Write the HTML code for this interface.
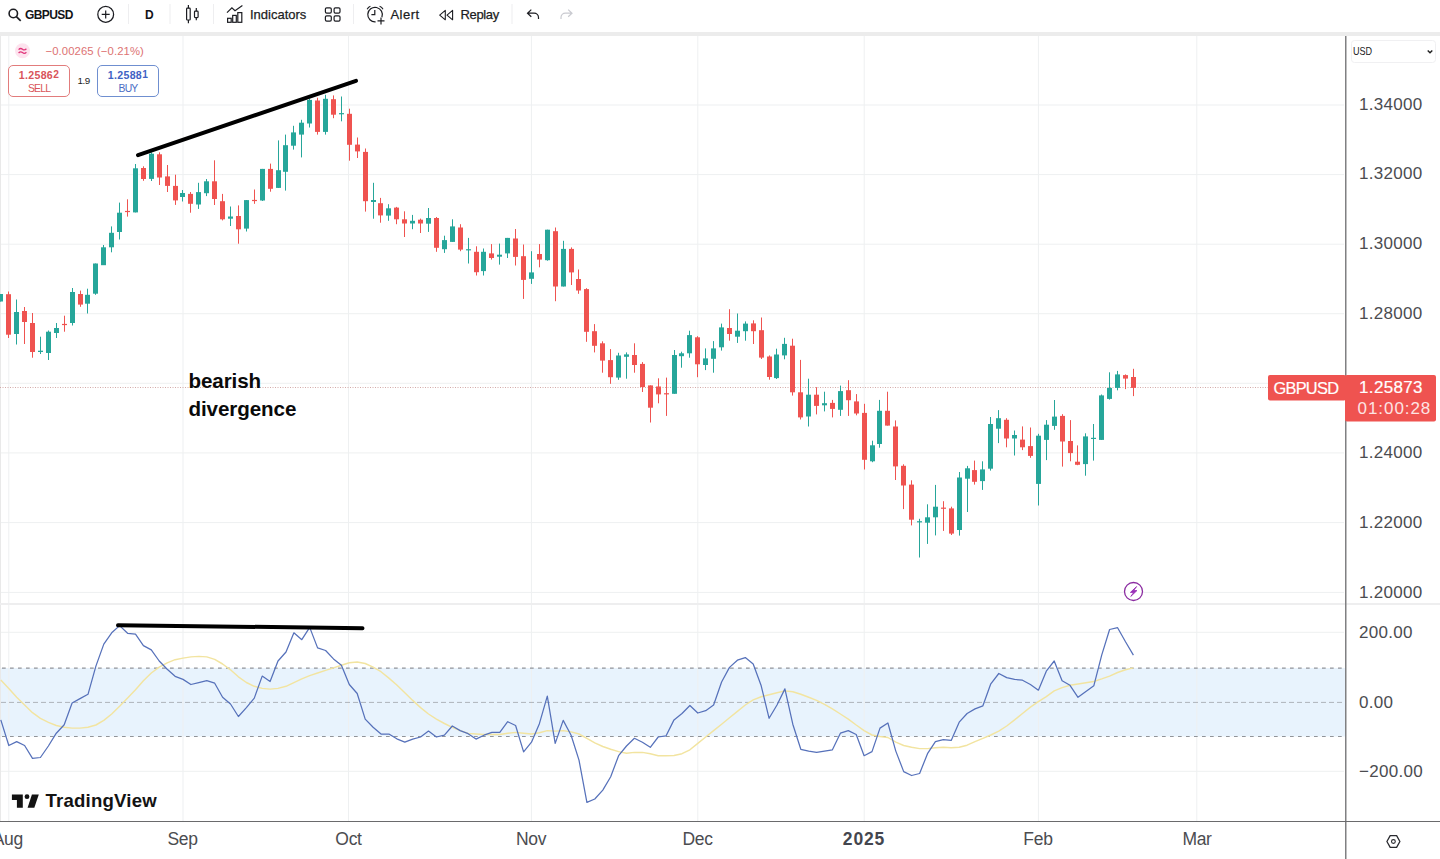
<!DOCTYPE html>
<html><head><meta charset="utf-8"><title>GBPUSD chart</title>
<style>
html,body{margin:0;padding:0;background:#fff;}
body{width:1440px;height:859px;position:relative;overflow:hidden;font-family:"Liberation Sans", sans-serif;}
.abs{position:absolute;}
.t{position:absolute;white-space:nowrap;line-height:1;}
.ax{position:absolute;left:1359px;font-size:17px;color:#4b4c50;letter-spacing:0.3px;line-height:20px;height:20px;white-space:nowrap;}
.tm{position:absolute;top:829.3px;font-size:17.5px;color:#4b4c50;line-height:20px;height:20px;white-space:nowrap;transform:translateX(-50%);letter-spacing:-0.3px;}
.tb{position:absolute;font-size:13px;color:#1c1d22;-webkit-text-stroke:0.25px #1c1d22;line-height:16px;top:7px;white-space:nowrap;}
</style></head><body>

<svg class="abs" style="left:0;top:0" width="1440" height="859" viewBox="0 0 1440 859">
<rect x="0" y="32" width="1440" height="4" fill="#ececec"/>
<rect x="0" y="36" width="1" height="785" fill="#e9e9e9"/>
<rect x="1" y="668" width="1344" height="68.5" fill="#e8f3fd"/>
<rect x="8.3" y="36" width="1" height="785" fill="#eef0f1"/>
<rect x="182.5" y="36" width="1" height="785" fill="#eef0f1"/>
<rect x="348.0" y="36" width="1" height="785" fill="#eef0f1"/>
<rect x="530.9" y="36" width="1" height="785" fill="#eef0f1"/>
<rect x="697.3" y="36" width="1" height="785" fill="#eef0f1"/>
<rect x="863.7" y="36" width="1" height="785" fill="#eef0f1"/>
<rect x="1037.9" y="36" width="1" height="785" fill="#eef0f1"/>
<rect x="1196.3" y="36" width="1" height="785" fill="#eef0f1"/>
<rect x="1" y="104.5" width="1343" height="1" fill="#eef0f1"/>
<rect x="1" y="174.1" width="1343" height="1" fill="#eef0f1"/>
<rect x="1" y="243.7" width="1343" height="1" fill="#eef0f1"/>
<rect x="1" y="313.2" width="1343" height="1" fill="#eef0f1"/>
<rect x="1" y="382.8" width="1343" height="1" fill="#eef0f1"/>
<rect x="1" y="452.4" width="1343" height="1" fill="#eef0f1"/>
<rect x="1" y="522.1" width="1343" height="1" fill="#eef0f1"/>
<rect x="1" y="591.9" width="1343" height="1" fill="#eef0f1"/>
<rect x="1" y="631.8" width="1343" height="1" fill="#eef0f1"/>
<rect x="1" y="770.8" width="1343" height="1" fill="#eef0f1"/>
<rect x="0" y="603" width="1440" height="2" fill="#eeeeef"/>
<line x1="1" y1="668.1" x2="1345" y2="668.1" stroke="#919499" stroke-width="1.15" stroke-dasharray="3.7 4.3" stroke-dashoffset="-1"/>
<line x1="1" y1="736.5" x2="1345" y2="736.5" stroke="#919499" stroke-width="1.15" stroke-dasharray="3.7 4.3" stroke-dashoffset="-1"/>
<line x1="1" y1="702.4" x2="1345" y2="702.4" stroke="#aeb3ba" stroke-width="1" stroke-dasharray="5 3"/>
<line x1="0" y1="387.5" x2="1268" y2="387.5" stroke="#d3aaa8" stroke-width="1" stroke-dasharray="1 1.5"/>
<rect x="0.00" y="294.0" width="1" height="7.5" fill="#26a69a"/>
<rect x="-2.00" y="294.0" width="5" height="7.5" fill="#26a69a"/>
<rect x="8.00" y="291.5" width="1" height="46.5" fill="#ef5350"/>
<rect x="6.00" y="294.2" width="5" height="40.5" fill="#ef5350"/>
<rect x="16.00" y="299.5" width="1" height="45.0" fill="#26a69a"/>
<rect x="14.00" y="312.0" width="5" height="22.0" fill="#26a69a"/>
<rect x="24.00" y="307.0" width="1" height="37.0" fill="#ef5350"/>
<rect x="22.00" y="311.0" width="5" height="11.0" fill="#ef5350"/>
<rect x="32.00" y="313.0" width="1" height="44.7" fill="#ef5350"/>
<rect x="30.00" y="323.0" width="5" height="29.0" fill="#ef5350"/>
<rect x="40.00" y="336.7" width="1" height="17.3" fill="#26a69a"/>
<rect x="38.00" y="350.7" width="5" height="1.3" fill="#26a69a"/>
<rect x="48.00" y="330.5" width="1" height="29.5" fill="#26a69a"/>
<rect x="46.00" y="331.7" width="5" height="21.3" fill="#26a69a"/>
<rect x="56.00" y="323.0" width="1" height="15.0" fill="#26a69a"/>
<rect x="54.00" y="328.0" width="5" height="5.0" fill="#26a69a"/>
<rect x="64.00" y="315.7" width="1" height="16.0" fill="#ef5350"/>
<rect x="62.00" y="323.9" width="5" height="1.2" fill="#ef5350"/>
<rect x="72.00" y="288.0" width="1" height="37.5" fill="#26a69a"/>
<rect x="70.00" y="292.0" width="5" height="31.0" fill="#26a69a"/>
<rect x="80.00" y="290.6" width="1" height="16.2" fill="#ef5350"/>
<rect x="78.00" y="294.0" width="5" height="10.6" fill="#ef5350"/>
<rect x="87.00" y="288.7" width="1" height="24.8" fill="#26a69a"/>
<rect x="85.00" y="294.8" width="5" height="8.9" fill="#26a69a"/>
<rect x="95.00" y="263.5" width="1" height="31.3" fill="#26a69a"/>
<rect x="93.00" y="263.5" width="5" height="30.2" fill="#26a69a"/>
<rect x="103.00" y="245.0" width="1" height="20.0" fill="#26a69a"/>
<rect x="101.00" y="247.3" width="5" height="17.9" fill="#26a69a"/>
<rect x="111.00" y="226.4" width="1" height="25.9" fill="#26a69a"/>
<rect x="109.00" y="232.8" width="5" height="14.5" fill="#26a69a"/>
<rect x="119.00" y="202.6" width="1" height="36.9" fill="#26a69a"/>
<rect x="117.00" y="212.7" width="5" height="19.3" fill="#26a69a"/>
<rect x="127.00" y="199.3" width="1" height="17.3" fill="#ef5350"/>
<rect x="125.00" y="210.9" width="5" height="1.2" fill="#ef5350"/>
<rect x="135.00" y="164.0" width="1" height="48.4" fill="#26a69a"/>
<rect x="133.00" y="168.3" width="5" height="44.1" fill="#26a69a"/>
<rect x="143.00" y="166.3" width="1" height="14.5" fill="#ef5350"/>
<rect x="141.00" y="168.0" width="5" height="11.0" fill="#ef5350"/>
<rect x="151.00" y="152.3" width="1" height="28.7" fill="#26a69a"/>
<rect x="149.00" y="153.7" width="5" height="25.2" fill="#26a69a"/>
<rect x="159.00" y="152.3" width="1" height="32.7" fill="#ef5350"/>
<rect x="157.00" y="154.3" width="5" height="23.2" fill="#ef5350"/>
<rect x="167.00" y="165.0" width="1" height="27.0" fill="#ef5350"/>
<rect x="165.00" y="176.4" width="5" height="9.5" fill="#ef5350"/>
<rect x="175.00" y="174.7" width="1" height="30.2" fill="#ef5350"/>
<rect x="173.00" y="185.9" width="5" height="14.5" fill="#ef5350"/>
<rect x="182.00" y="190.0" width="1" height="11.5" fill="#26a69a"/>
<rect x="180.00" y="193.0" width="5" height="4.0" fill="#26a69a"/>
<rect x="190.00" y="192.0" width="1" height="20.7" fill="#ef5350"/>
<rect x="188.00" y="193.9" width="5" height="9.9" fill="#ef5350"/>
<rect x="198.00" y="182.8" width="1" height="26.1" fill="#26a69a"/>
<rect x="196.00" y="192.1" width="5" height="12.4" fill="#26a69a"/>
<rect x="206.00" y="179.0" width="1" height="17.1" fill="#26a69a"/>
<rect x="204.00" y="181.3" width="5" height="11.9" fill="#26a69a"/>
<rect x="214.00" y="160.3" width="1" height="44.7" fill="#ef5350"/>
<rect x="212.00" y="181.3" width="5" height="17.7" fill="#ef5350"/>
<rect x="222.00" y="193.9" width="1" height="26.5" fill="#ef5350"/>
<rect x="220.00" y="201.2" width="5" height="18.1" fill="#ef5350"/>
<rect x="230.00" y="206.5" width="1" height="19.5" fill="#26a69a"/>
<rect x="228.00" y="216.5" width="5" height="2.2" fill="#26a69a"/>
<rect x="238.00" y="205.4" width="1" height="38.3" fill="#ef5350"/>
<rect x="236.00" y="216.0" width="5" height="13.3" fill="#ef5350"/>
<rect x="246.00" y="200.0" width="1" height="31.5" fill="#26a69a"/>
<rect x="244.00" y="200.1" width="5" height="28.5" fill="#26a69a"/>
<rect x="254.00" y="189.5" width="1" height="14.3" fill="#ef5350"/>
<rect x="252.00" y="199.9" width="5" height="1.2" fill="#ef5350"/>
<rect x="262.00" y="168.9" width="1" height="32.1" fill="#26a69a"/>
<rect x="260.00" y="168.9" width="5" height="31.6" fill="#26a69a"/>
<rect x="270.00" y="163.6" width="1" height="28.1" fill="#ef5350"/>
<rect x="268.00" y="168.9" width="5" height="19.9" fill="#ef5350"/>
<rect x="278.00" y="140.4" width="1" height="47.6" fill="#26a69a"/>
<rect x="276.00" y="170.2" width="5" height="17.7" fill="#26a69a"/>
<rect x="285.00" y="134.6" width="1" height="56.0" fill="#26a69a"/>
<rect x="283.00" y="145.2" width="5" height="26.6" fill="#26a69a"/>
<rect x="293.00" y="125.8" width="1" height="23.8" fill="#26a69a"/>
<rect x="291.00" y="132.4" width="5" height="13.3" fill="#26a69a"/>
<rect x="301.00" y="119.8" width="1" height="37.6" fill="#26a69a"/>
<rect x="299.00" y="122.7" width="5" height="11.9" fill="#26a69a"/>
<rect x="309.00" y="98.8" width="1" height="28.7" fill="#26a69a"/>
<rect x="307.00" y="99.9" width="5" height="23.6" fill="#26a69a"/>
<rect x="317.00" y="97.7" width="1" height="36.9" fill="#ef5350"/>
<rect x="315.00" y="100.5" width="5" height="31.4" fill="#ef5350"/>
<rect x="325.00" y="94.8" width="1" height="39.8" fill="#26a69a"/>
<rect x="323.00" y="98.8" width="5" height="33.1" fill="#26a69a"/>
<rect x="333.00" y="95.4" width="1" height="22.8" fill="#ef5350"/>
<rect x="331.00" y="99.2" width="5" height="15.5" fill="#ef5350"/>
<rect x="341.00" y="96.5" width="1" height="24.8" fill="#26a69a"/>
<rect x="339.00" y="113.1" width="5" height="1.2" fill="#26a69a"/>
<rect x="349.00" y="108.7" width="1" height="52.0" fill="#ef5350"/>
<rect x="347.00" y="113.8" width="5" height="31.0" fill="#ef5350"/>
<rect x="357.00" y="137.5" width="1" height="20.5" fill="#ef5350"/>
<rect x="355.00" y="144.6" width="5" height="6.8" fill="#ef5350"/>
<rect x="365.00" y="148.5" width="1" height="63.1" fill="#ef5350"/>
<rect x="363.00" y="151.9" width="5" height="49.3" fill="#ef5350"/>
<rect x="373.00" y="182.8" width="1" height="35.9" fill="#26a69a"/>
<rect x="371.00" y="200.0" width="5" height="2.0" fill="#26a69a"/>
<rect x="380.00" y="197.9" width="1" height="24.8" fill="#ef5350"/>
<rect x="378.00" y="203.2" width="5" height="12.2" fill="#ef5350"/>
<rect x="388.00" y="204.2" width="1" height="16.6" fill="#26a69a"/>
<rect x="386.00" y="208.3" width="5" height="7.3" fill="#26a69a"/>
<rect x="396.00" y="206.9" width="1" height="17.3" fill="#ef5350"/>
<rect x="394.00" y="207.6" width="5" height="11.7" fill="#ef5350"/>
<rect x="404.00" y="211.3" width="1" height="25.7" fill="#ef5350"/>
<rect x="402.00" y="219.3" width="5" height="4.2" fill="#ef5350"/>
<rect x="412.00" y="214.9" width="1" height="14.3" fill="#26a69a"/>
<rect x="410.00" y="220.8" width="5" height="2.7" fill="#26a69a"/>
<rect x="420.00" y="218.6" width="1" height="14.4" fill="#ef5350"/>
<rect x="418.00" y="219.7" width="5" height="3.8" fill="#ef5350"/>
<rect x="428.00" y="208.0" width="1" height="23.9" fill="#26a69a"/>
<rect x="426.00" y="218.0" width="5" height="5.7" fill="#26a69a"/>
<rect x="436.00" y="217.0" width="1" height="34.8" fill="#ef5350"/>
<rect x="434.00" y="218.0" width="5" height="29.8" fill="#ef5350"/>
<rect x="444.00" y="235.7" width="1" height="17.2" fill="#26a69a"/>
<rect x="442.00" y="240.1" width="5" height="9.1" fill="#26a69a"/>
<rect x="452.00" y="219.3" width="1" height="22.6" fill="#26a69a"/>
<rect x="450.00" y="226.4" width="5" height="15.5" fill="#26a69a"/>
<rect x="460.00" y="224.2" width="1" height="27.0" fill="#ef5350"/>
<rect x="458.00" y="227.5" width="5" height="22.1" fill="#ef5350"/>
<rect x="468.00" y="237.9" width="1" height="25.6" fill="#26a69a"/>
<rect x="466.00" y="249.2" width="5" height="1.2" fill="#26a69a"/>
<rect x="476.00" y="246.3" width="1" height="29.2" fill="#ef5350"/>
<rect x="474.00" y="251.8" width="5" height="20.4" fill="#ef5350"/>
<rect x="483.00" y="248.5" width="1" height="27.0" fill="#26a69a"/>
<rect x="481.00" y="251.8" width="5" height="19.3" fill="#26a69a"/>
<rect x="491.00" y="244.1" width="1" height="15.5" fill="#ef5350"/>
<rect x="489.00" y="253.4" width="5" height="4.6" fill="#ef5350"/>
<rect x="499.00" y="243.6" width="1" height="21.0" fill="#26a69a"/>
<rect x="497.00" y="254.7" width="5" height="2.0" fill="#26a69a"/>
<rect x="507.00" y="237.9" width="1" height="20.1" fill="#26a69a"/>
<rect x="505.00" y="237.9" width="5" height="15.5" fill="#26a69a"/>
<rect x="515.00" y="229.0" width="1" height="36.5" fill="#ef5350"/>
<rect x="513.00" y="238.5" width="5" height="18.4" fill="#ef5350"/>
<rect x="523.00" y="244.5" width="1" height="54.4" fill="#ef5350"/>
<rect x="521.00" y="256.2" width="5" height="23.7" fill="#ef5350"/>
<rect x="531.00" y="251.2" width="1" height="32.7" fill="#26a69a"/>
<rect x="529.00" y="272.4" width="5" height="6.4" fill="#26a69a"/>
<rect x="539.00" y="244.1" width="1" height="23.2" fill="#ef5350"/>
<rect x="537.00" y="254.0" width="5" height="5.6" fill="#ef5350"/>
<rect x="547.00" y="229.7" width="1" height="31.0" fill="#26a69a"/>
<rect x="545.00" y="229.7" width="5" height="30.5" fill="#26a69a"/>
<rect x="555.00" y="227.5" width="1" height="73.7" fill="#ef5350"/>
<rect x="553.00" y="231.2" width="5" height="55.3" fill="#ef5350"/>
<rect x="563.00" y="240.8" width="1" height="45.7" fill="#26a69a"/>
<rect x="561.00" y="248.9" width="5" height="37.6" fill="#26a69a"/>
<rect x="571.00" y="247.4" width="1" height="37.6" fill="#ef5350"/>
<rect x="569.00" y="248.9" width="5" height="23.5" fill="#ef5350"/>
<rect x="578.00" y="269.5" width="1" height="24.3" fill="#ef5350"/>
<rect x="576.00" y="279.0" width="5" height="11.5" fill="#ef5350"/>
<rect x="586.00" y="288.2" width="1" height="53.6" fill="#ef5350"/>
<rect x="584.00" y="289.1" width="5" height="42.7" fill="#ef5350"/>
<rect x="594.00" y="324.1" width="1" height="28.3" fill="#ef5350"/>
<rect x="592.00" y="331.2" width="5" height="14.6" fill="#ef5350"/>
<rect x="602.00" y="341.3" width="1" height="31.4" fill="#ef5350"/>
<rect x="600.00" y="343.3" width="5" height="17.3" fill="#ef5350"/>
<rect x="610.00" y="349.1" width="1" height="34.7" fill="#ef5350"/>
<rect x="608.00" y="360.1" width="5" height="17.1" fill="#ef5350"/>
<rect x="618.00" y="352.8" width="1" height="27.0" fill="#26a69a"/>
<rect x="616.00" y="355.5" width="5" height="22.1" fill="#26a69a"/>
<rect x="626.00" y="352.4" width="1" height="26.3" fill="#26a69a"/>
<rect x="624.00" y="354.4" width="5" height="2.4" fill="#26a69a"/>
<rect x="634.00" y="343.3" width="1" height="29.4" fill="#ef5350"/>
<rect x="632.00" y="355.0" width="5" height="10.0" fill="#ef5350"/>
<rect x="642.00" y="362.1" width="1" height="29.9" fill="#ef5350"/>
<rect x="640.00" y="363.9" width="5" height="23.2" fill="#ef5350"/>
<rect x="650.00" y="385.4" width="1" height="37.1" fill="#ef5350"/>
<rect x="648.00" y="385.4" width="5" height="22.3" fill="#ef5350"/>
<rect x="658.00" y="378.3" width="1" height="25.0" fill="#ef5350"/>
<rect x="656.00" y="386.5" width="5" height="7.9" fill="#ef5350"/>
<rect x="666.00" y="377.6" width="1" height="38.3" fill="#ef5350"/>
<rect x="664.00" y="393.2" width="5" height="1.2" fill="#ef5350"/>
<rect x="674.00" y="350.0" width="1" height="43.8" fill="#26a69a"/>
<rect x="672.00" y="355.0" width="5" height="38.8" fill="#26a69a"/>
<rect x="681.00" y="351.7" width="1" height="16.0" fill="#26a69a"/>
<rect x="679.00" y="353.3" width="5" height="2.9" fill="#26a69a"/>
<rect x="689.00" y="330.7" width="1" height="27.0" fill="#26a69a"/>
<rect x="687.00" y="335.1" width="5" height="18.2" fill="#26a69a"/>
<rect x="697.00" y="336.2" width="1" height="41.0" fill="#ef5350"/>
<rect x="695.00" y="337.3" width="5" height="27.0" fill="#ef5350"/>
<rect x="705.00" y="348.4" width="1" height="21.7" fill="#26a69a"/>
<rect x="703.00" y="358.4" width="5" height="6.6" fill="#26a69a"/>
<rect x="713.00" y="341.1" width="1" height="31.6" fill="#26a69a"/>
<rect x="711.00" y="348.4" width="5" height="10.4" fill="#26a69a"/>
<rect x="721.00" y="323.6" width="1" height="27.0" fill="#26a69a"/>
<rect x="719.00" y="327.4" width="5" height="19.9" fill="#26a69a"/>
<rect x="729.00" y="309.2" width="1" height="31.5" fill="#ef5350"/>
<rect x="727.00" y="328.0" width="5" height="6.0" fill="#ef5350"/>
<rect x="737.00" y="313.5" width="1" height="29.4" fill="#26a69a"/>
<rect x="735.00" y="330.7" width="5" height="6.0" fill="#26a69a"/>
<rect x="745.00" y="321.4" width="1" height="19.3" fill="#26a69a"/>
<rect x="743.00" y="323.6" width="5" height="7.6" fill="#26a69a"/>
<rect x="753.00" y="320.3" width="1" height="23.7" fill="#ef5350"/>
<rect x="751.00" y="323.4" width="5" height="7.8" fill="#ef5350"/>
<rect x="761.00" y="317.5" width="1" height="41.5" fill="#ef5350"/>
<rect x="759.00" y="330.2" width="5" height="27.4" fill="#ef5350"/>
<rect x="769.00" y="355.4" width="1" height="24.3" fill="#ef5350"/>
<rect x="767.00" y="356.5" width="5" height="20.5" fill="#ef5350"/>
<rect x="776.00" y="348.7" width="1" height="30.3" fill="#26a69a"/>
<rect x="774.00" y="354.5" width="5" height="23.6" fill="#26a69a"/>
<rect x="784.00" y="337.8" width="1" height="21.5" fill="#26a69a"/>
<rect x="782.00" y="343.9" width="5" height="11.5" fill="#26a69a"/>
<rect x="792.00" y="338.7" width="1" height="56.9" fill="#ef5350"/>
<rect x="790.00" y="345.7" width="5" height="46.6" fill="#ef5350"/>
<rect x="800.00" y="359.9" width="1" height="59.6" fill="#ef5350"/>
<rect x="798.00" y="392.3" width="5" height="25.1" fill="#ef5350"/>
<rect x="808.00" y="378.7" width="1" height="47.8" fill="#26a69a"/>
<rect x="806.00" y="394.7" width="5" height="21.8" fill="#26a69a"/>
<rect x="816.00" y="387.2" width="1" height="27.2" fill="#ef5350"/>
<rect x="814.00" y="394.7" width="5" height="11.2" fill="#ef5350"/>
<rect x="824.00" y="391.7" width="1" height="19.7" fill="#26a69a"/>
<rect x="822.00" y="403.2" width="5" height="2.1" fill="#26a69a"/>
<rect x="832.00" y="399.9" width="1" height="17.5" fill="#ef5350"/>
<rect x="830.00" y="402.9" width="5" height="6.0" fill="#ef5350"/>
<rect x="840.00" y="385.6" width="1" height="30.3" fill="#26a69a"/>
<rect x="838.00" y="391.1" width="5" height="18.7" fill="#26a69a"/>
<rect x="848.00" y="380.2" width="1" height="35.7" fill="#ef5350"/>
<rect x="846.00" y="390.2" width="5" height="10.0" fill="#ef5350"/>
<rect x="856.00" y="394.1" width="1" height="21.2" fill="#ef5350"/>
<rect x="854.00" y="401.4" width="5" height="12.1" fill="#ef5350"/>
<rect x="864.00" y="403.8" width="1" height="65.7" fill="#ef5350"/>
<rect x="862.00" y="412.9" width="5" height="46.9" fill="#ef5350"/>
<rect x="872.00" y="440.7" width="1" height="21.5" fill="#26a69a"/>
<rect x="870.00" y="445.3" width="5" height="16.0" fill="#26a69a"/>
<rect x="879.00" y="399.9" width="1" height="47.8" fill="#26a69a"/>
<rect x="877.00" y="410.8" width="5" height="33.2" fill="#26a69a"/>
<rect x="887.00" y="391.7" width="1" height="33.9" fill="#ef5350"/>
<rect x="885.00" y="410.8" width="5" height="14.8" fill="#ef5350"/>
<rect x="895.00" y="420.4" width="1" height="59.6" fill="#ef5350"/>
<rect x="893.00" y="426.5" width="5" height="39.9" fill="#ef5350"/>
<rect x="903.00" y="464.3" width="1" height="44.8" fill="#ef5350"/>
<rect x="901.00" y="465.8" width="5" height="19.7" fill="#ef5350"/>
<rect x="911.00" y="480.3" width="1" height="45.1" fill="#ef5350"/>
<rect x="909.00" y="484.6" width="5" height="35.1" fill="#ef5350"/>
<rect x="919.00" y="518.8" width="1" height="38.7" fill="#26a69a"/>
<rect x="917.00" y="521.2" width="5" height="1.2" fill="#26a69a"/>
<rect x="927.00" y="504.3" width="1" height="39.6" fill="#26a69a"/>
<rect x="925.00" y="517.3" width="5" height="5.4" fill="#26a69a"/>
<rect x="935.00" y="484.9" width="1" height="50.5" fill="#26a69a"/>
<rect x="933.00" y="506.7" width="5" height="10.6" fill="#26a69a"/>
<rect x="943.00" y="501.2" width="1" height="29.7" fill="#ef5350"/>
<rect x="941.00" y="507.6" width="5" height="1.2" fill="#ef5350"/>
<rect x="951.00" y="506.7" width="1" height="28.3" fill="#ef5350"/>
<rect x="949.00" y="508.4" width="5" height="25.2" fill="#ef5350"/>
<rect x="959.00" y="472.0" width="1" height="63.6" fill="#26a69a"/>
<rect x="957.00" y="477.5" width="5" height="52.5" fill="#26a69a"/>
<rect x="967.00" y="465.9" width="1" height="46.1" fill="#26a69a"/>
<rect x="965.00" y="468.3" width="5" height="10.4" fill="#26a69a"/>
<rect x="974.00" y="460.6" width="1" height="24.0" fill="#ef5350"/>
<rect x="972.00" y="470.1" width="5" height="11.7" fill="#ef5350"/>
<rect x="982.00" y="461.3" width="1" height="28.6" fill="#26a69a"/>
<rect x="980.00" y="469.4" width="5" height="11.7" fill="#26a69a"/>
<rect x="990.00" y="417.0" width="1" height="53.6" fill="#26a69a"/>
<rect x="988.00" y="424.0" width="5" height="44.7" fill="#26a69a"/>
<rect x="998.00" y="410.1" width="1" height="33.0" fill="#26a69a"/>
<rect x="996.00" y="418.2" width="5" height="10.5" fill="#26a69a"/>
<rect x="1006.00" y="418.2" width="1" height="29.1" fill="#ef5350"/>
<rect x="1004.00" y="419.8" width="5" height="18.7" fill="#ef5350"/>
<rect x="1014.00" y="430.5" width="1" height="25.0" fill="#26a69a"/>
<rect x="1012.00" y="435.0" width="5" height="3.5" fill="#26a69a"/>
<rect x="1022.00" y="426.4" width="1" height="23.7" fill="#ef5350"/>
<rect x="1020.00" y="439.6" width="5" height="7.7" fill="#ef5350"/>
<rect x="1030.00" y="427.5" width="1" height="30.3" fill="#ef5350"/>
<rect x="1028.00" y="446.1" width="5" height="9.8" fill="#ef5350"/>
<rect x="1038.00" y="433.8" width="1" height="71.7" fill="#26a69a"/>
<rect x="1036.00" y="435.7" width="5" height="48.2" fill="#26a69a"/>
<rect x="1046.00" y="420.1" width="1" height="40.0" fill="#26a69a"/>
<rect x="1044.00" y="424.7" width="5" height="15.2" fill="#26a69a"/>
<rect x="1054.00" y="400.0" width="1" height="29.8" fill="#26a69a"/>
<rect x="1052.00" y="416.6" width="5" height="9.3" fill="#26a69a"/>
<rect x="1062.00" y="414.2" width="1" height="52.4" fill="#ef5350"/>
<rect x="1060.00" y="415.9" width="5" height="25.6" fill="#ef5350"/>
<rect x="1070.00" y="420.1" width="1" height="41.2" fill="#ef5350"/>
<rect x="1068.00" y="441.0" width="5" height="12.1" fill="#ef5350"/>
<rect x="1077.00" y="445.4" width="1" height="19.8" fill="#ef5350"/>
<rect x="1075.00" y="461.7" width="5" height="3.1" fill="#ef5350"/>
<rect x="1085.00" y="433.3" width="1" height="42.4" fill="#26a69a"/>
<rect x="1083.00" y="436.4" width="5" height="27.7" fill="#26a69a"/>
<rect x="1093.00" y="424.0" width="1" height="36.6" fill="#26a69a"/>
<rect x="1091.00" y="437.8" width="5" height="1.2" fill="#26a69a"/>
<rect x="1101.00" y="394.5" width="1" height="45.4" fill="#26a69a"/>
<rect x="1099.00" y="395.4" width="5" height="44.5" fill="#26a69a"/>
<rect x="1109.00" y="372.3" width="1" height="27.3" fill="#26a69a"/>
<rect x="1107.00" y="387.9" width="5" height="11.0" fill="#26a69a"/>
<rect x="1117.00" y="370.9" width="1" height="19.4" fill="#26a69a"/>
<rect x="1115.00" y="374.4" width="5" height="13.5" fill="#26a69a"/>
<rect x="1125.00" y="374.4" width="1" height="14.7" fill="#ef5350"/>
<rect x="1123.00" y="375.1" width="5" height="3.5" fill="#ef5350"/>
<rect x="1133.00" y="368.8" width="1" height="27.3" fill="#ef5350"/>
<rect x="1131.00" y="377.0" width="5" height="10.9" fill="#ef5350"/>
<polyline points="0.8,679.9 8.8,688.4 16.7,697.3 24.6,705.0 32.5,712.7 40.4,718.3 48.4,722.4 56.3,725.5 64.2,727.3 72.1,728.1 80.0,728.1 88.0,727.3 95.9,725.0 103.8,720.4 111.7,714.0 119.6,706.3 127.6,698.1 135.5,689.7 143.4,680.7 151.3,673.0 159.2,667.1 167.2,662.8 175.1,659.7 183.0,658.1 190.9,656.9 198.8,656.4 206.8,656.9 214.7,659.4 222.6,664.0 230.5,669.8 238.4,676.8 246.4,682.5 254.3,686.3 262.2,688.4 270.1,689.1 278.0,688.4 286.0,686.3 293.9,682.7 301.8,678.9 309.7,675.6 317.6,673.0 325.6,670.4 333.5,667.9 341.4,665.3 349.3,662.8 357.2,662.0 365.2,663.5 373.1,667.1 381.0,671.7 388.9,678.1 396.8,685.0 404.8,692.7 412.7,700.4 420.6,707.6 428.5,714.0 436.4,719.1 444.4,723.5 452.3,727.3 460.2,730.6 468.1,733.4 476.0,734.0 484.0,734.5 491.9,734.5 499.8,734.5 507.7,733.2 515.6,732.4 523.6,733.2 531.5,734.0 539.4,732.7 547.3,730.6 555.2,731.1 563.2,730.6 571.1,731.9 579.0,734.0 586.9,738.3 594.8,742.9 602.8,746.5 610.7,749.3 618.6,751.6 626.5,753.2 634.4,752.4 642.4,752.4 650.3,753.7 658.2,755.7 666.1,755.7 674.0,755.5 682.0,753.7 689.9,749.8 697.8,743.4 705.7,737.0 713.6,730.6 721.6,724.2 729.5,717.8 737.4,711.4 745.3,705.0 753.2,699.9 761.2,696.8 769.1,694.8 777.0,692.7 784.9,690.9 792.8,691.7 800.8,694.3 808.7,697.3 816.6,700.4 824.5,704.3 832.4,708.9 840.4,714.0 848.3,719.1 856.2,725.0 864.1,730.6 872.0,735.0 880.0,736.5 887.9,737.5 895.8,742.2 903.7,745.5 911.6,747.3 919.6,748.6 927.5,748.6 935.4,747.8 943.3,747.3 951.2,747.8 959.2,747.3 967.1,745.2 975.0,741.6 982.9,738.3 990.8,735.0 998.8,731.1 1006.7,726.0 1014.6,719.9 1022.5,713.5 1030.4,707.1 1038.4,701.7 1046.3,696.6 1054.2,690.9 1062.1,687.6 1070.0,685.3 1078.0,684.0 1085.9,682.7 1093.8,681.5 1101.7,678.9 1109.6,676.1 1117.6,672.5 1125.5,669.7 1133.4,667.9" fill="none" stroke="#f2e4a0" stroke-width="1.45" stroke-linejoin="round"/>
<polyline points="0.8,719.9 8.8,745.5 16.7,741.6 24.6,745.5 32.5,758.3 40.4,757.5 48.4,746.0 56.3,733.2 64.2,724.7 72.1,703.0 80.0,698.6 88.0,694.3 95.9,666.1 103.8,644.1 111.7,632.8 119.6,625.6 127.6,633.3 135.5,634.1 143.4,645.6 151.3,649.9 159.2,661.0 167.2,669.2 175.1,676.3 183.0,679.4 190.9,684.5 198.8,682.7 206.8,680.7 214.7,683.2 222.6,697.3 230.5,704.0 238.4,716.5 246.4,707.6 254.3,698.1 262.2,676.1 270.1,681.5 278.0,661.0 286.0,652.0 293.9,632.8 301.8,639.7 309.7,627.4 317.6,647.9 325.6,650.5 333.5,658.9 341.4,665.3 349.3,684.5 357.2,693.5 365.2,719.1 373.1,727.3 381.0,734.0 388.9,734.0 396.8,738.8 404.8,742.2 412.7,739.1 420.6,737.0 428.5,731.1 436.4,737.0 444.4,735.2 452.3,726.0 460.2,730.6 468.1,733.7 476.0,739.1 484.0,735.2 491.9,732.4 499.8,732.4 507.7,721.7 515.6,725.5 523.6,751.9 531.5,742.2 539.4,723.7 547.3,696.1 555.2,743.4 563.2,720.4 571.1,735.2 579.0,760.1 586.9,802.4 594.8,799.0 602.8,790.1 610.7,776.7 618.6,755.7 626.5,746.0 634.4,738.3 642.4,742.2 650.3,747.3 658.2,737.0 666.1,735.8 674.0,719.9 682.0,713.5 689.9,705.5 697.8,713.0 705.7,710.7 713.6,705.0 721.6,682.0 729.5,667.4 737.4,660.2 745.3,657.6 753.2,664.0 761.2,685.8 769.1,718.3 777.0,705.0 784.9,688.9 792.8,724.2 800.8,749.3 808.7,751.1 816.6,752.4 824.5,751.1 832.4,749.8 840.4,733.2 848.3,730.6 856.2,734.5 864.1,755.7 872.0,751.6 880.0,728.1 887.9,723.0 895.8,751.1 903.7,771.6 911.6,775.5 919.6,773.5 927.5,753.7 935.4,741.6 943.3,739.6 951.2,740.4 959.2,722.2 967.1,713.5 975.0,708.9 982.9,705.8 990.8,683.8 998.8,673.5 1006.7,677.6 1014.6,679.4 1022.5,680.2 1030.4,684.5 1038.4,690.2 1046.3,671.2 1054.2,661.0 1062.1,680.7 1070.0,685.3 1078.0,697.3 1085.9,691.4 1093.8,685.8 1101.7,655.1 1109.6,629.5 1117.6,627.7 1125.5,641.8 1133.4,655.1" fill="none" stroke="#5671ba" stroke-width="1.25" stroke-linejoin="round"/>
<line x1="138" y1="155.2" x2="356" y2="80.8" stroke="#000" stroke-width="4" stroke-linecap="round"/>
<line x1="118" y1="625.2" x2="362.5" y2="628.2" stroke="#000" stroke-width="4" stroke-linecap="round"/>
<rect x="1345" y="36" width="1.5" height="823" fill="#808082"/>
<rect x="0" y="821" width="1440" height="1" fill="#6a6a6c"/>
<circle cx="1133.5" cy="591.5" r="9" fill="#fff" stroke="#8a2ba0" stroke-width="1.3"/>
<path d="M1136.6 586.6 L1130.4 592.4 L1133.8 592.4 L1130.8 596.4 L1136.9 590.6 L1133.5 590.6 Z" fill="#9a2fb8" stroke="#9a2fb8" stroke-width="0.9" stroke-linejoin="round"/>
<path d="M1390.2 835.6 h6.4 l3.3 5.9 l-3.3 5.9 h-6.4 l-3.3 -5.9 z" fill="none" stroke="#2a2b30" stroke-width="1.3" stroke-linejoin="round"/>
<circle cx="1393.4" cy="841.5" r="1.9" fill="none" stroke="#2a2b30" stroke-width="1.1"/>
<rect x="1268" y="375" width="78" height="25.5" rx="2" fill="#ef5350"/>
<rect x="1345" y="375" width="91" height="46.5" rx="2" fill="#ef5350"/>
<rect x="1351.5" y="40.5" width="84" height="22" rx="3" fill="#fff" stroke="#f0f0f2" stroke-width="1"/>
<path d="M1427.7 50.5 l2.3 2.3 l2.3 -2.3" fill="none" stroke="#222" stroke-width="1.4"/>
<circle cx="13.3" cy="13.5" r="4.2" fill="none" stroke="#1c1d22" stroke-width="1.6"/><line x1="16.4" y1="16.6" x2="20.7" y2="20.8" stroke="#1c1d22" stroke-width="1.7"/>
<circle cx="105.7" cy="14.4" r="7.9" fill="none" stroke="#1c1d22" stroke-width="1.25"/><path d="M105.7 10.4v8M101.7 14.4h8" stroke="#1c1d22" stroke-width="1.2" fill="none"/>
<rect x="128" y="4" width="1" height="20" fill="#eeeef0"/>
<rect x="169.5" y="4" width="1" height="20" fill="#eeeef0"/>
<rect x="213" y="4" width="1" height="20" fill="#eeeef0"/>
<rect x="353" y="4" width="1" height="20" fill="#eeeef0"/>
<rect x="511.5" y="4" width="1" height="20" fill="#eeeef0"/>
<path d="M188.4 5v3.2M188.4 20v3.2M196.3 8v3.2M196.3 17.6v2.6" stroke="#1c1d22" stroke-width="1.2" fill="none"/>
<rect x="186.6" y="8.2" width="3.6" height="11.8" rx="0.8" fill="none" stroke="#1c1d22" stroke-width="1.2"/>
<rect x="194.5" y="11.2" width="3.6" height="6.4" rx="0.8" fill="none" stroke="#1c1d22" stroke-width="1.2"/>
<path d="M227 12.6 L231.9 7.8 L235 10.7 L242.4 5.6" stroke="#1c1d22" stroke-width="1.2" fill="none"/>
<rect x="227.6" y="18.3" width="3.6" height="4.0" fill="none" stroke="#1c1d22" stroke-width="1.2"/>
<rect x="232.7" y="15.4" width="3.6" height="6.9" fill="none" stroke="#1c1d22" stroke-width="1.2"/>
<rect x="237.8" y="12.6" width="4.0" height="9.7" fill="none" stroke="#1c1d22" stroke-width="1.2"/>
<rect x="325.4" y="7.8" width="5.9" height="5.3" rx="1.3" fill="none" stroke="#1c1d22" stroke-width="1.2"/>
<rect x="334.1" y="7.8" width="5.9" height="5.3" rx="1.3" fill="none" stroke="#1c1d22" stroke-width="1.2"/>
<rect x="325.4" y="15.8" width="5.9" height="5.3" rx="1.3" fill="none" stroke="#1c1d22" stroke-width="1.2"/>
<rect x="334.1" y="15.8" width="5.9" height="5.3" rx="1.3" fill="none" stroke="#1c1d22" stroke-width="1.2"/>
<path d="M381.9 17.2 A7.3 7.3 0 1 0 375.6 21.9" stroke="#1c1d22" stroke-width="1.2" fill="none"/>
<path d="M374.8 10v4.6h-3.4" stroke="#1c1d22" stroke-width="1.2" fill="none"/>
<path d="M367.2 9.2 A6 6 0 0 1 370.4 6.2 M379.6 6.2 A6 6 0 0 1 383 9.2" stroke="#1c1d22" stroke-width="1.2" fill="none"/>
<path d="M381 17.4v7M377.5 20.9h7" stroke="#1c1d22" stroke-width="1.2" fill="none"/>
<path d="M445.3 10.4 v9.4 l-5.6 -4.7 z M452.6 10.4 v9.4 l-5.6 -4.7 z" stroke="#1c1d22" stroke-width="1.1" fill="none" stroke-linejoin="round"/>
<path d="M531.3 9.6 l-3.8 3.6 l3.8 3.6 M527.7 13.2 h6.4 a4.4 4.4 0 0 1 4.4 4.4 v1.4" stroke="#1c1d22" stroke-width="1.2" fill="none"/>
<path d="M568.2 9.6 l3.8 3.6 l-3.8 3.6 M571.8 13.2 h-6.4 a4.4 4.4 0 0 0 -4.4 4.4 v1.4" stroke="#c9cad0" stroke-width="1.2" fill="none"/>
<circle cx="22.5" cy="50.8" r="7.5" fill="#fde3ee"/>
<path d="M18.6 49.6 q1.9 -2 3.9 -0.4 q2 1.6 3.9 -0.4 M18.6 53 q1.9 -2 3.9 -0.4 q2 1.6 3.9 -0.4" stroke="#e0357a" stroke-width="1.3" fill="none"/>
<rect x="8.5" y="65.5" width="61" height="31" rx="4.5" fill="#fff" stroke="#e27c7c" stroke-width="1"/>
<rect x="97.5" y="65.5" width="61" height="31" rx="4.5" fill="#fff" stroke="#6f8fd0" stroke-width="1"/>
<path d="M11.9 794.4 H22.8 V807.8 H16.9 V800 H11.9 Z" fill="#131313"/>
<circle cx="27" cy="796.7" r="2.4" fill="#131313"/>
<path d="M31.9 794.4 H38.8 L34.3 807.8 H27.6 Z" fill="#131313"/>
</svg>
<div class="tb" style="left:25px;font-weight:bold;font-size:12px;letter-spacing:-0.6px;color:#131418;-webkit-text-stroke:0">GBPUSD</div>
<div class="tb" style="left:145px;font-weight:bold;font-size:12px;color:#131418;-webkit-text-stroke:0">D</div>
<div class="tb" style="left:250px">Indicators</div>
<div class="tb" style="left:390.5px;letter-spacing:0.45px">Alert</div>
<div class="tb" style="left:460.5px;letter-spacing:-0.35px">Replay</div>
<div class="t" style="left:45.5px;top:46px;font-size:11.3px;color:#dd7373;letter-spacing:0.1px">−0.00265 (−0.21%)</div>
<div class="t" style="left:9px;top:70px;width:60px;text-align:center;font-size:10.6px;font-weight:bold;color:#d9545a;letter-spacing:0.3px">1.2586<span style="font-size:10.2px;position:relative;top:-1.1px;margin-left:0.1px">2</span></div>
<div class="t" style="left:9px;top:84.3px;width:60px;text-align:center;font-size:10.4px;color:#d9545a;letter-spacing:-0.8px">SELL</div>
<div class="t" style="left:77.5px;top:75.6px;font-size:9.8px;color:#222;letter-spacing:-0.4px">1.9</div>
<div class="t" style="left:98px;top:70px;width:60px;text-align:center;font-size:10.6px;font-weight:bold;color:#3f62c4;letter-spacing:0.3px">1.2588<span style="font-size:10.2px;position:relative;top:-1.1px;margin-left:0.1px">1</span></div>
<div class="t" style="left:98px;top:84.3px;width:60px;text-align:center;font-size:10.4px;color:#4a6cc4;letter-spacing:-0.8px">BUY</div>
<div class="t" style="left:1352.6px;top:46.3px;font-size:10.8px;color:#222;transform:scaleX(0.84);transform-origin:left center">USD</div>
<div class="ax" style="top:94.9px">1.34000</div>
<div class="ax" style="top:164.4px">1.32000</div>
<div class="ax" style="top:234.1px">1.30000</div>
<div class="ax" style="top:303.7px">1.28000</div>
<div class="ax" style="top:443.0px">1.24000</div>
<div class="ax" style="top:512.7px">1.22000</div>
<div class="ax" style="top:582.7px">1.20000</div>
<div class="ax" style="top:623.4px">200.00</div>
<div class="ax" style="top:692.8px">0.00</div>
<div class="ax" style="top:761.7px">−200.00</div>
<div class="t" style="left:1273.5px;top:379.5px;font-size:16.4px;color:#fff;-webkit-text-stroke:0.2px #fff;letter-spacing:-0.75px">GBPUSD</div>
<div class="t" style="left:1359px;top:379px;font-size:17px;color:#fff;-webkit-text-stroke:0.2px #fff;letter-spacing:0.35px">1.25873</div>
<div class="t" style="left:1357.5px;top:400px;font-size:17px;color:#fde4e3;letter-spacing:0.95px">01:00:28</div>
<div class="tm" style="left:7.8px;">Aug</div>
<div class="tm" style="left:182.5px;">Sep</div>
<div class="tm" style="left:348.5px;">Oct</div>
<div class="tm" style="left:531px;">Nov</div>
<div class="tm" style="left:697.5px;">Dec</div>
<div class="tm" style="left:864px;font-weight:bold;color:#44464e;letter-spacing:0.85px;">2025</div>
<div class="tm" style="left:1038px;">Feb</div>
<div class="tm" style="left:1197px;">Mar</div>
<div class="t" style="left:188.5px;top:366.6px;font-size:20.6px;font-weight:bold;color:#0a0a0a;line-height:28.65px;letter-spacing:-0.1px">bearish<br>divergence</div>
<div class="t" style="left:45.5px;top:791.6px;font-size:18.6px;font-weight:bold;color:#131313;letter-spacing:0.2px">TradingView</div>
</body></html>
